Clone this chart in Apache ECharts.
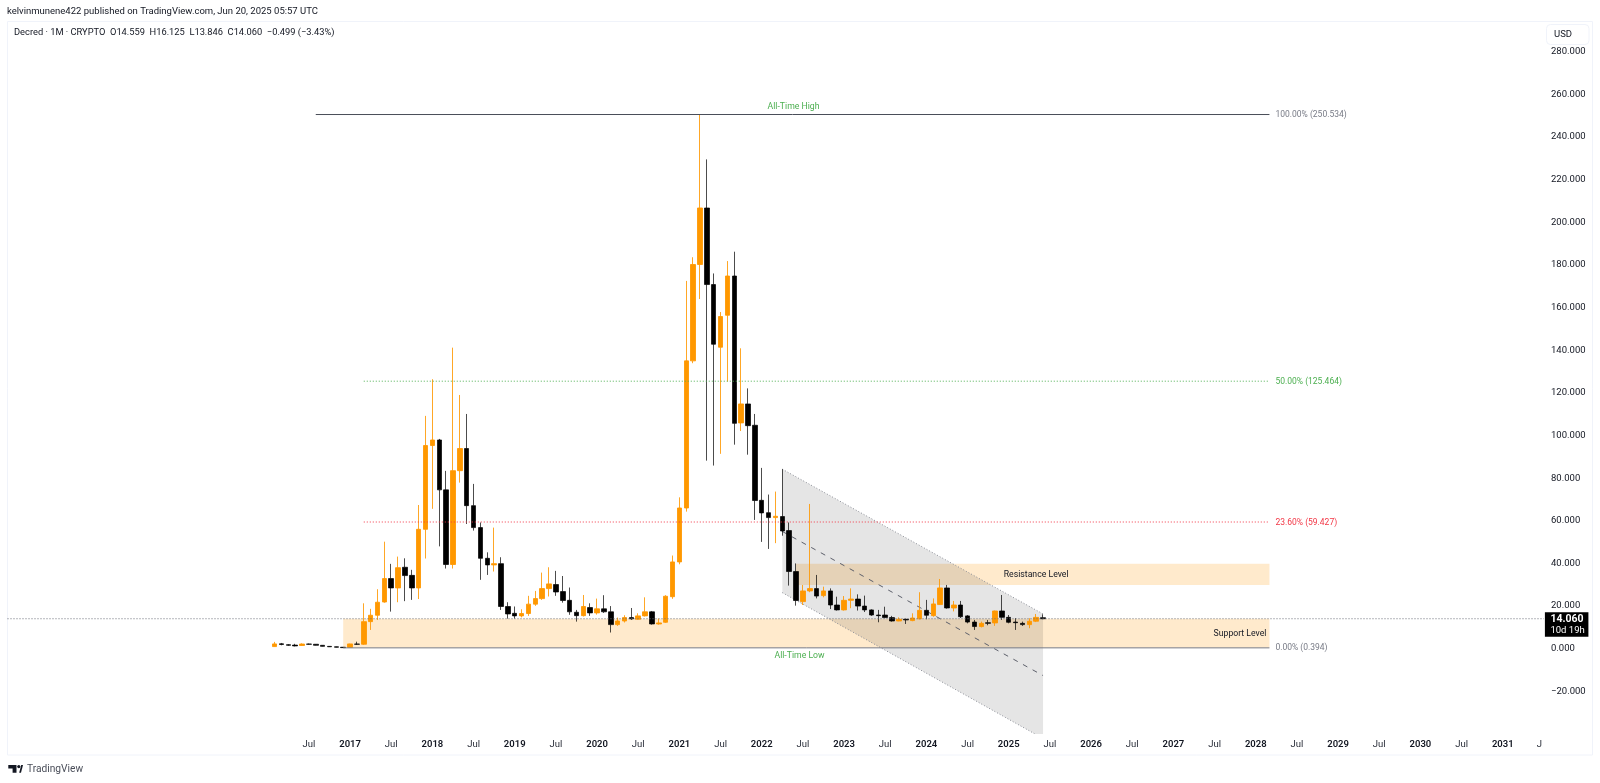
<!DOCTYPE html>
<html>
<head>
<meta charset="utf-8">
<title>Decred 1M</title>
<style>
html, body { margin: 0; padding: 0; background: #fff; }
#chart { width: 1600px; height: 783px; }
</style>
<script src="https://cdn.jsdelivr.net/npm/echarts@6/dist/echarts.min.js"></script>
</head>
<body>
<div id="chart"></div>
<script>
// monthly candles, Feb 2016 .. Jun 2025
var candleStart = '2016-02';
var candleOpen = [
    1.0,2.3,1.9,1.7,1.5,2.2,2.1,1.6,1.1,0.9,0.7,
    0.6,2.2,2.1,12.7,15.7,21.9,32.9,28.5,38.2,34.4,28.5,56,
    95.3,97.9,74.5,39.5,83.5,93.9,67.1,56.8,42.4,39.3,39.9,19.8,
    16.6,15.4,16.5,20.9,23.5,28.2,30.1,26.8,22.7,17.1,15.5,19.3,
    16.8,18.7,17.3,11.3,13,14.6,13.8,15.4,17.3,11.6,12.4,24.4,
    40.7,66,135,180.2,206.7,170.8,141.4,156.4,174.8,105.9,114.8,104.8,
    69.6,63.8,61.5,62,55.4,36.2,22.1,27.1,28.2,24.9,27.1,20.5,
    18.2,22.7,23.3,20,18.2,15.8,15.8,14.6,13,13.8,13.2,14,
    18,15.5,20.7,28.5,19.1,20.5,15.4,12.5,10.4,12.2,12.1,17.7,
    14.7,12.5,11.9,11.3,12.9,14.559
];
var candleClose = [
    2.25,2.0,1.6,1.3,2.2,2.1,1.6,1.1,0.9,0.7,0.5,
    2.25,2.1,12.7,15.7,21.8,32.9,28.5,38,34.3,28.5,56,95.3,
    97.9,74.5,39.5,83.5,93.9,67.1,56.8,42.4,39.3,39.9,19.8,16.3,
    15.4,16.5,20.9,23.5,28.2,30.4,26.6,22.6,17.3,15.5,19.8,16.8,
    18.7,17.3,11.3,13,14.6,14,15.4,17.3,11.6,12.1,24.6,40.7,
    66,135,180.2,206.7,170.8,142.8,155.8,174.8,105.7,114.8,104.6,69.5,
    63.7,61.5,62.1,55.2,36.2,22.6,27.1,28.2,24.7,27.1,20.5,18.2,
    22.7,23.3,20,18.2,15.8,15.5,14.6,13,13.8,13.5,14.4,18,
    15.7,21,28.5,19.1,20.5,15,12.5,10.4,11.9,11.9,17.7,14.7,
    12.4,12.2,11.3,12.9,14.7,14.06
];
var candleLow = [
    0.9,1.6,1.3,1.1,1.3,1.9,1.5,1.0,0.8,0.6,0.4,
    0.39,1.8,1.8,8.8,13.5,21.6,17.4,21.8,22.3,22.9,23.3,42.3,
    65.6,48,37.6,37.6,77.9,58.5,55.4,32.3,34.6,36.2,18.2,14.1,
    14.1,14.7,15.4,20.1,22.9,24.5,24.8,21.6,15.9,12.7,15.1,15.4,
    16,16.8,7.6,10.7,12.3,13.5,13.6,15.1,11.3,11.3,12.1,23.4,
    39.6,64.3,133.9,164,88.2,85.9,91.4,125.3,95.7,102.1,91,60.4,
    50.1,46.8,49.5,53,29.6,20.2,20.5,26.5,23.6,24.1,18.6,17.9,
    17.9,19,17.9,17.2,15.4,12.4,14.3,12.7,12.9,11.6,12.9,13.8,
    13.8,15,20.5,18.8,17.5,14.4,11.9,8.8,10,11,10.7,13.5,
    11.9,8.8,10.7,9.6,12.5,13.846
];
var candleHigh = [
    3.2,2.7,2.2,2.3,2.5,2.4,2.2,1.7,1.2,1.0,0.8,
    2.4,3.3,21.3,18.7,27.9,50.2,39.8,43.2,42.4,37,67.4,109.2,
    126.4,98.4,83.4,141.2,119,110.1,77.3,59.2,45.2,56.8,42.9,21.8,
    19.8,18.5,24.8,27.1,35.7,38.2,36.5,34.1,28.7,18.2,25.2,21.3,
    23.5,25.1,20,14.6,15.7,19.1,16.6,24.1,17.7,14.1,25.1,43.7,
    71,172.5,183.6,250.5,229.5,176,157.9,181.8,186.2,140.9,122.1,110.1,
    84.8,72.3,73.7,84.2,59.2,40,29.9,67.9,34.6,29.1,28.3,24.4,
    24.7,28.3,25.5,24.9,18.5,18.2,19.7,15.4,14.7,14.1,16.6,26.5,
    22.9,23.6,32.7,29.9,22.4,22.4,15.8,13.5,12.7,13.5,17.9,25.2,
    15.8,14.4,12.7,14.3,16.3,16.125
];

// fib levels: start month, end month, price, label
var fibStart = ['2016-08', '2017-03', '2017-03', '2016-12'];
var fibEnd = ['2028-03', '2028-03', '2028-03', '2028-03'];
var fibPrice = [250.534, 125.464, 59.427, 0.394];
var fibText = ['100.00% (250.534)', '50.00% (125.464)', '23.60% (59.427)', '0.00% (0.394)'];

// zones: start month, end month, upper price, lower price
var zoneStart = ['2016-12', '2022-06'];
var zoneEnd = ['2028-03', '2028-03'];
var zoneUpper = [14, 39.8];
var zoneLower = [0.394, 29.9];

// falling channel
var channelMonths = ['2022-04', '2025-06'];
var channelUpper = [84.2, 16.3];
var channelMiddle = [55, -12.6];
var channelLower = [26.3, -42.1];

var lastPrice = 14.06;
var lastPriceText = ['14.060', '10d 19h'];

var noteText = ['All-Time High', 'All-Time Low', 'Resistance Level', 'Support Level'];
var noteMonth = ['2022-06', '2022-06', '2025-05', '2027-11'];
var notePrice = [254, -3.5, 34.6, 6.9];

// month axis, Dec 2012 .. Jul 2031
var months = [];
for (var yr = 2012; yr <= 2031; yr++) {
    for (var mo = 1; mo <= 12; mo++) {
        if (yr === 2012 && mo < 12) continue;
        if (yr === 2031 && mo > 7) continue;
        months.push(yr + '-' + (mo < 10 ? '0' + mo : mo));
    }
}
function monthIdx(m) { return months.indexOf(m); }

var candles = [];
var lead = monthIdx(candleStart);
for (var i = 0; i < lead; i++) candles.push(['-', '-', '-', '-']);
for (i = 0; i < candleOpen.length; i++) {
    candles.push([candleOpen[i], candleClose[i], candleLow[i], candleHigh[i]]);
}

var FONT = 'Roboto, sans-serif';
var INK = '#131722';
var UP = '#ff9800';
var fibLine = ['#4a4e59', '#4caf50', '#f23645', '#787b86'];
var fibLabel = ['#787b86', '#4caf50', '#f23645', '#787b86'];
var fibDash = [null, [1, 2], [1, 2], null];
var noteColor = ['#4caf50', '#4caf50', INK, INK];
var noteNudge = [-2.5, 3.5, 0, -2];

var chart = echarts.init(document.getElementById('chart'), null, { renderer: 'canvas' });

var zoneData = zoneStart.map(function (m, k) {
    return [monthIdx(m), monthIdx(zoneEnd[k]), zoneUpper[k], zoneLower[k]];
});
var fibData = fibStart.map(function (m, k) {
    return [monthIdx(m), monthIdx(fibEnd[k]), fibPrice[k]];
});
var noteData = noteMonth.map(function (m, k) {
    return [monthIdx(m), notePrice[k]];
});

var option = {
    animation: false,
    backgroundColor: '#ffffff',
    textStyle: { fontFamily: FONT },
    title: [
        {
            text: 'kelvinmunene422 published on TradingView.com, Jun 20, 2025 05:57 UTC',
            left: 7, top: 7, padding: 0,
            textStyle: { fontSize: 9.5, fontWeight: 'normal', color: INK, fontFamily: FONT }
        },
        {
            text: 'Decred \u00b7 1M \u00b7 CRYPTO  O14.559  H16.125  L13.846  C14.060  \u22120.499 (\u22123.43%)',
            left: 14, top: 28, padding: 0,
            textStyle: { fontSize: 9.3, fontWeight: 'normal', color: INK, fontFamily: FONT }
        },
        {
            text: 'TradingView',
            left: 27, top: 764, padding: 0,
            textStyle: { fontSize: 10.2, fontWeight: 'normal', color: '#4a4e59', fontFamily: FONT }
        }
    ],
    grid: { left: 10.43, top: 21, width: 1536.9, height: 713, containLabel: false },
    xAxis: {
        type: 'category',
        data: months,
        boundaryGap: true,
        axisLine: { show: false },
        axisTick: { show: false },
        splitLine: { show: false },
        axisLabel: {
            hideOverlap: false,
            margin: 6,
            interval: function (index, value) {
                var mm = value.slice(5);
                return value >= '2016-07' && (mm === '01' || mm === '07');
            },
            formatter: function (value) {
                if (value === '2031-07') return '{cut|J}';
                if (value.slice(5) === '01') return '{year|' + value.slice(0, 4) + '}';
                return '{half|Jul}';
            },
            rich: {
                year: { fontSize: 9.5, fontWeight: 600, color: INK, fontFamily: FONT },
                half: { fontSize: 9.5, color: '#2a2e39', fontFamily: FONT },
                cut: { fontSize: 9.5, color: '#2a2e39', fontFamily: FONT, padding: [0, 9, 0, 0] }
            }
        }
    },
    yAxis: {
        type: 'value',
        position: 'right',
        min: -40,
        max: 294.4,
        interval: 20,
        axisLine: { show: false },
        axisTick: { show: false },
        splitLine: { show: false },
        axisLabel: {
            margin: 3.7,
            padding: [2, 0, 0, 0],
            fontSize: 9.5,
            color: INK,
            fontFamily: FONT,
            showMinLabel: false,
            showMaxLabel: false,
            formatter: function (v) {
                return v.toFixed(3).replace('-', '\u2212');
            }
        }
    },
    graphic: [
        {
            type: 'rect', silent: true,
            shape: { x: 7.5, y: 21.5, width: 1585, height: 733.5 },
            style: { fill: null, stroke: '#f0f3fa', lineWidth: 1 }
        },
        {
            type: 'rect', silent: true,
            shape: { x: 1546.5, y: 24.5, width: 42.5, height: 20, r: 4 },
            style: { fill: '#fff', stroke: '#f0f3fa', lineWidth: 1 }
        },
        {
            type: 'text', silent: true,
            style: { x: 1554, y: 30, text: 'USD', fontSize: 9.5, fontFamily: FONT, fill: INK }
        },
        // TradingView mark
        {
            type: 'polygon', silent: true,
            shape: { points: [[8.3, 765], [16.5, 765], [16.5, 772.7], [12.6, 772.7], [12.6, 768.6], [8.3, 768.6]] },
            style: { fill: '#131722' }
        },
        {
            type: 'circle', silent: true,
            shape: { cx: 18.8, cy: 766.6, r: 1.6 },
            style: { fill: '#131722' }
        },
        {
            type: 'polygon', silent: true,
            shape: { points: [[19.2, 772.7], [21.2, 765], [23, 765], [21, 772.7]] },
            style: { fill: '#131722' }
        }
    ],
    series: [
        {
            // support and resistance zones
            type: 'custom', z: 1, clip: true, silent: true,
            coordinateSystem: 'cartesian2d',
            encode: { x: [0, 1], y: [2, 3] },
            data: zoneData,
            renderItem: function (params, api) {
                var a = api.coord([api.value(0), api.value(2)]);
                var b = api.coord([api.value(1), api.value(3)]);
                return {
                    type: 'rect',
                    shape: { x: a[0], y: a[1], width: b[0] - a[0], height: b[1] - a[1] },
                    style: { fill: 'rgba(255,152,0,0.2)' }
                };
            }
        },
        {
            // channel fill and its three lines
            type: 'custom', z: 2, clip: true, silent: true,
            coordinateSystem: 'cartesian2d',
            encode: { x: 0, y: 1 },
            data: [[monthIdx(channelMonths[0]), channelUpper[0]]],
            renderItem: function (params, api) {
                var x0 = monthIdx(channelMonths[0]), x1 = monthIdx(channelMonths[1]);
                function seg(ends) {
                    return { a: api.coord([x0, ends[0]]), b: api.coord([x1, ends[1]]) };
                }
                function lineEl(s, stroke, dash) {
                    return {
                        type: 'line',
                        shape: { x1: s.a[0], y1: s.a[1], x2: s.b[0], y2: s.b[1] },
                        style: { stroke: stroke, lineWidth: 1, lineDash: dash, fill: null }
                    };
                }
                var up = seg(channelUpper), mid = seg(channelMiddle), low = seg(channelLower);
                return {
                    type: 'group',
                    children: [
                        { type: 'polygon', shape: { points: [up.a, up.b, low.b, low.a] }, style: { fill: 'rgba(0,0,0,0.1)' } },
                        lineEl(up, '#8a8d96', [1, 2]),
                        lineEl(low, '#8a8d96', [1, 2]),
                        lineEl(mid, '#5d606b', [5, 6])
                    ]
                };
            }
        },
        {
            name: 'Decred',
            type: 'candlestick',
            z: 3,
            barWidth: 5,
            silent: true,
            itemStyle: {
                color: UP,
                color0: '#000000',
                borderColor: 'rgba(255,152,0,0.85)',
                borderColor0: 'rgba(0,0,0,0.7)',
                borderWidth: 1
            },
            data: candles
        },
        {
            // fib levels with right hand labels
            type: 'custom', z: 4, clip: false, silent: true,
            coordinateSystem: 'cartesian2d',
            encode: { x: [0, 1], y: 2 },
            data: fibData,
            renderItem: function (params, api) {
                var k = params.dataIndex;
                var a = api.coord([api.value(0), api.value(2)]);
                var b = api.coord([api.value(1), api.value(2)]);
                return {
                    type: 'group',
                    children: [
                        {
                            type: 'line',
                            shape: { x1: a[0], y1: a[1], x2: b[0], y2: b[1] },
                            style: { stroke: fibLine[k], lineWidth: 1, lineDash: fibDash[k] }
                        },
                        {
                            type: 'text',
                            style: {
                                x: b[0] + 6, y: b[1] + 0.5, text: fibText[k],
                                fontSize: 8.5, fontFamily: FONT, fill: fibLabel[k],
                                verticalAlign: 'middle'
                            }
                        }
                    ]
                };
            }
        },
        {
            // annotations
            type: 'custom', z: 5, clip: false, silent: true,
            coordinateSystem: 'cartesian2d',
            encode: { x: 0, y: 1 },
            data: noteData,
            renderItem: function (params, api) {
                var k = params.dataIndex;
                var p = api.coord([api.value(0), api.value(1)]);
                return {
                    type: 'text',
                    style: {
                        x: p[0] + noteNudge[k], y: p[1], text: noteText[k],
                        fontSize: 8.7, fontFamily: FONT, fill: noteColor[k],
                        align: 'center', verticalAlign: 'middle'
                    }
                };
            }
        },
        {
            // last price line and tag
            type: 'custom', z: 6, clip: false, silent: true,
            coordinateSystem: 'cartesian2d',
            encode: { x: 0, y: 1 },
            data: [[monthIdx('2031-07'), lastPrice]],
            renderItem: function (params, api) {
                var p = api.coord([api.value(0), api.value(1)]);
                var left = 7.5;
                return {
                    type: 'group',
                    children: [
                        {
                            type: 'line',
                            shape: { x1: left, y1: p[1], x2: p[0], y2: p[1] },
                            style: { stroke: '#6a6d78', lineWidth: 1, lineDash: [1, 2] }
                        },
                        {
                            type: 'rect',
                            shape: { x: p[0] + 1, y: p[1] - 6.5, width: 43.5, height: 24.5 },
                            style: { fill: '#000' }
                        },
                        {
                            type: 'text',
                            style: {
                                x: p[0] + 6.5, y: p[1] + 0.2, text: lastPriceText[0],
                                fontSize: 10.5, fontWeight: 700, fontFamily: FONT, fill: '#fff',
                                verticalAlign: 'middle'
                            }
                        },
                        {
                            type: 'text',
                            style: {
                                x: p[0] + 6.5, y: p[1] + 11.8, text: lastPriceText[1],
                                fontSize: 9.5, fontFamily: FONT, fill: '#fff',
                                verticalAlign: 'middle'
                            }
                        }
                    ]
                };
            }
        }
    ]
};
chart.setOption(option);
</script>
</body>
</html>
